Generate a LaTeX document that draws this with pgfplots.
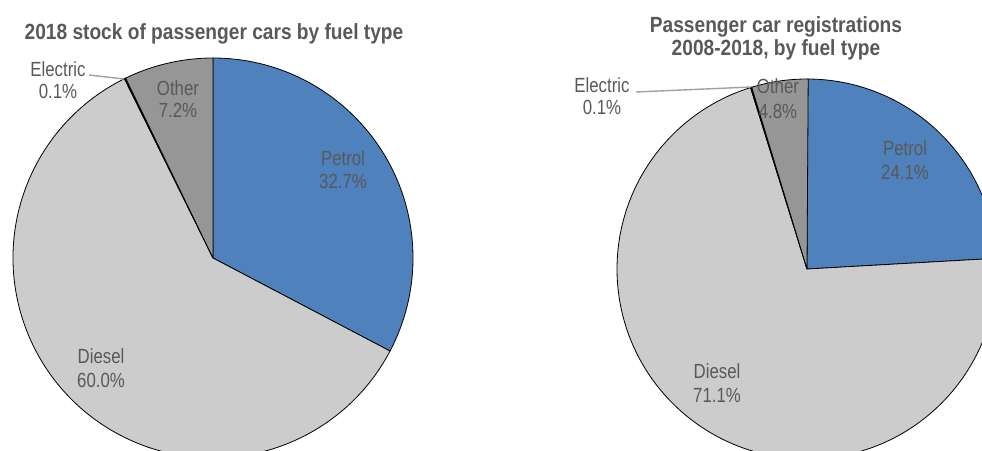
\documentclass[border=0pt]{standalone}
\usepackage{pgfplots}
\pgfplotsset{compat=1.18}
\usepackage{fontspec}
\setmainfont{Liberation Sans}[FakeStretch=0.82]
\newfontfamily\titlefont{Liberation Sans}[FakeStretch=0.87]

\definecolor{petrol}{RGB}{79,129,189}
\definecolor{diesel}{RGB}{204,204,204}
\definecolor{other}{RGB}{150,150,150}
\definecolor{electric}{RGB}{60,60,60}
\definecolor{txt}{RGB}{89,89,89}
\definecolor{leader}{RGB}{160,160,160}

% one pie slice: centre x, centre y, radius, share before it (%), share (%), fill
% slices run clockwise from twelve o'clock
\newcommand\slice[6]{%
  \pgfmathsetmacro\sa{90-3.6*#4}%
  \pgfmathsetmacro\sb{90-3.6*(#4+#5)}%
  \edef\next{\noexpand\filldraw[fill=#6,draw=black,line width=0.8pt,line join=round]
    (axis cs:#1,#2) -- ++(\sa:#3pt) arc[start angle=\sa,end angle=\sb,radius=#3pt] -- cycle;}%
  \next}

% two-line data label: x, baseline 1, baseline 2, line 1, line 2
\newcommand\lbl[5]{%
  \node[anchor=base,text=txt,font=\fontsize{20.5}{23}\selectfont,inner sep=0pt] at (axis cs:#1,#2) {#4};
  \node[anchor=base,text=txt,font=\fontsize{20.5}{23}\selectfont,inner sep=0pt] at (axis cs:#1,#3) {#5};}

\begin{document}
\begin{tikzpicture}
\begin{axis}[width=982pt,height=450pt,scale only axis,
  xmin=0,xmax=982,ymin=0,ymax=450,y dir=reverse,
  hide axis,clip=true]

% 2018 stock: Petrol, Diesel, Electric, Other
\slice{213}{258}{200}{0}{32.7}{petrol}
\slice{213}{258}{200}{32.7}{60.0}{diesel}
\slice{213}{258}{200}{92.7}{0.1}{electric}
\slice{213}{258}{200}{92.8}{7.2}{other}

% registrations 2008-2018
\slice{807}{269}{190}{0}{24.1}{petrol}
\slice{807}{269}{190}{24.1}{71.1}{diesel}
\slice{807}{269}{190}{95.2}{0.1}{electric}
\slice{807}{269}{190}{95.3}{4.8}{other}

% leader lines for the electric slices
\draw[leader,line width=1.4pt] (axis cs:89,75) -- (axis cs:124,79);
\draw[leader,line width=1.4pt] (axis cs:636,92) -- (axis cs:751,87);

% titles
\node[anchor=base,text=txt,font=\titlefont\bfseries\fontsize{22}{24}\selectfont,inner sep=0pt]
  at (axis cs:214,39) {2018 stock of passenger cars by fuel type};
\node[anchor=base,text=txt,font=\titlefont\bfseries\fontsize{22}{24}\selectfont,inner sep=0pt]
  at (axis cs:776,32) {Passenger car registrations};
\node[anchor=base,text=txt,font=\titlefont\bfseries\fontsize{22}{24}\selectfont,inner sep=0pt]
  at (axis cs:776,55) {2008-2018, by fuel type};

% labels
\lbl{58}{76}{98}{Electric}{0.1\%}
\lbl{178}{95}{117}{Other}{7.2\%}
\lbl{343}{165}{188}{Petrol}{32.7\%}
\lbl{101}{363}{387}{Diesel}{60.0\%}

\lbl{602}{92}{114}{Electric}{0.1\%}
\lbl{778}{93}{118}{Other}{4.8\%}
\lbl{905}{155}{179}{Petrol}{24.1\%}
\lbl{717}{378}{402}{Diesel}{71.1\%}
\end{axis}
\pgfresetboundingbox
\useasboundingbox (0,0) rectangle (982pt,450pt);
\end{tikzpicture}
\end{document}
